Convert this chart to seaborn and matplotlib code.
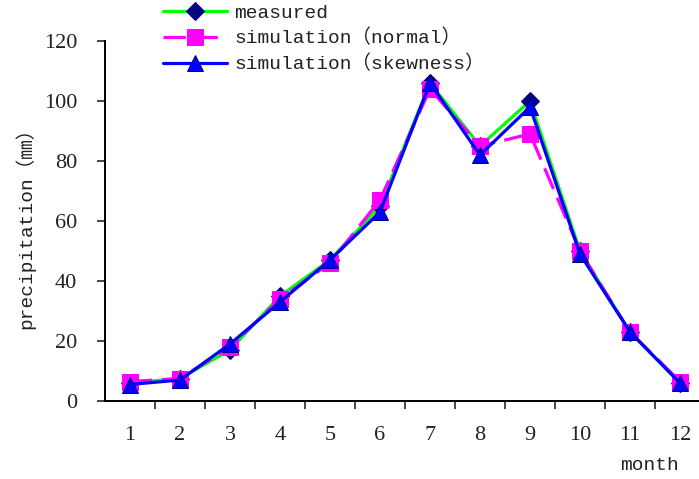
import numpy as np
import pandas as pd
import matplotlib
matplotlib.use("Agg")
import matplotlib.pyplot as plt
import seaborn as sns

# data
months = list(range(1, 13))
measured = [6, 7.5, 17, 35, 47, 65, 106, 85, 100, 50, 23, 6]
sim_normal = [6.5, 7.5, 18, 34, 46, 67, 104, 85, 89, 50, 23, 6.5]
sim_skewness = [5.5, 7, 19, 33, 47, 63, 106, 82, 98, 49, 23, 6]

sns.set_style("white")
plt.rcParams['font.family'] = ['Liberation Mono', 'Noto Sans CJK SC', 'DejaVu Sans']

fig = plt.figure(figsize=(6.99, 4.79), dpi=100)
W, H = 699, 479
ax = fig.add_axes([105 / W, 1 - 401 / H, 600 / W, 360 / H])

sns.lineplot(x=months, y=measured, ax=ax, color="#00ff00", lw=2.3,
             marker="D", markersize=9, markerfacecolor="#000080",
             markeredgecolor="#000080", label="measured")
sns.lineplot(x=months, y=sim_normal, ax=ax, color="#ff00ff", lw=2.3,
             marker="s", markersize=11, markerfacecolor="#ff00ff",
             markeredgecolor="#ff00ff", label="simulation（normal）")
ax.lines[-1].set_dashes([7, 3])
sns.lineplot(x=months, y=sim_skewness, ax=ax, color="#0000ff", lw=2.3,
             marker="^", markersize=11, markerfacecolor="#0000ff",
             markeredgecolor="#000080", label="simulation（skewness）")

ax.set_xlim(0.5, 12.5)
ax.set_ylim(0, 120)
ax.set_yticks(range(0, 121, 20))
ax.set_xticks(months)
ax.set_xticks(np.arange(1.5, 12.5, 1), minor=True)
ax.tick_params(axis="x", which="major", length=0, pad=18)
ax.tick_params(axis="x", which="minor", length=6, width=1.2, direction="out", bottom=True)
ax.tick_params(axis="y", length=6, width=1.2, direction="out", left=True, pad=14)
for lab in ax.get_xticklabels() + ax.get_yticklabels():
    lab.set_family("Liberation Serif")
    lab.set_fontsize(16)
    lab.set_color("#222222")

for s in ["top", "right"]:
    ax.spines[s].set_visible(False)
for s in ["left", "bottom"]:
    ax.spines[s].set_linewidth(1.4)
    ax.spines[s].set_color("black")

ax.set_ylabel("")
ax.set_xlabel("")
fig.text(25 / W, 1 - 223 / H, "precipitation（㎜）", fontsize=14, color="#222222",
         rotation=90, ha="center", va="center")
fig.text(649 / W, 1 - 465 / H, "month", fontsize=14, color="#222222",
         ha="center", va="center")

leg = ax.legend(loc="upper left", bbox_to_anchor=(163 / W, 1 - 4 / H), bbox_transform=fig.transFigure,
                frameon=False, fontsize=14, handlelength=3.3, labelspacing=0.38,
                borderaxespad=0, borderpad=0, handletextpad=0.35)
for t in leg.get_texts():
    t.set_color("#222222")

fig.savefig("out.png", dpi=100)
